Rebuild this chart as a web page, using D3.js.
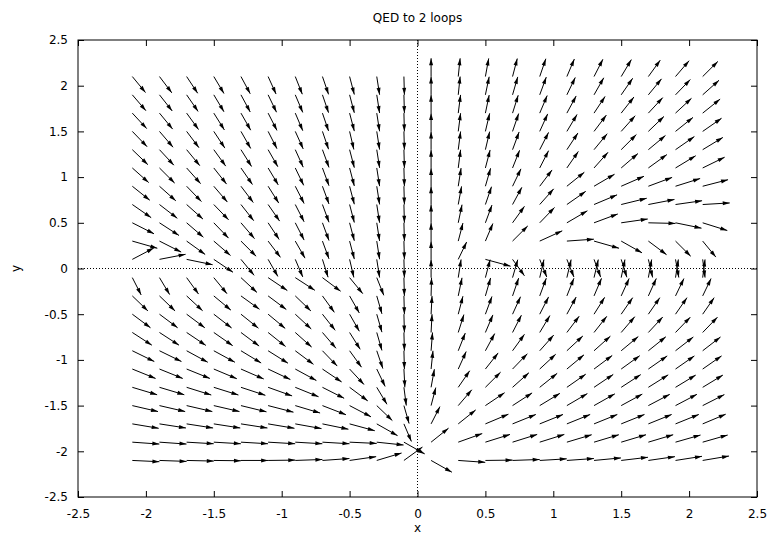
<!DOCTYPE html>
<html>
<head>
<meta charset="utf-8">
<script src="https://cdn.jsdelivr.net/npm/d3@7"></script>
<style>
  body { margin: 0; background: #fff; }
  text { font-family: "DejaVu Sans", sans-serif; font-size: 12px; fill: #000; }
</style>
</head>
<body>
<div id="chart"></div>
<script>
// grid of arrow tails
var xCols = [-2.1, -1.9, -1.7, -1.5, -1.3, -1.1, -0.9, -0.7, -0.5, -0.3, -0.1,
             0.1, 0.3, 0.5, 0.7, 0.9, 1.1, 1.3, 1.5, 1.7, 1.9, 2.1];
var yRows = [2.1, 1.9, 1.7, 1.5, 1.3, 1.1, 0.9, 0.7, 0.5, 0.3, 0.1,
             -0.1, -0.3, -0.5, -0.7, -0.9, -1.1, -1.3, -1.5, -1.7, -1.9, -2.1];

// arrow direction in degrees (data space), one row per yRows entry
var angles = [
  [-61, -63, -66, -68, -70, -73, -75, -77, -80, -84, -89,  90, 86, 83, 80, 77, 74, 71, 68, 64, 60, 56],
  [-60, -62, -65, -68, -70, -72, -74, -77, -80, -84, -89,  90, 86, 82, 79, 76, 72, 69, 65, 61, 57, 53],
  [-58, -61, -64, -67, -69, -71, -74, -77, -80, -84, -89,  90, 85, 82, 78, 74, 70, 66, 62, 58, 54, 50],
  [-57, -60, -63, -66, -69, -71, -73, -77, -81, -84, -89,  90, 85, 81, 77, 73, 68, 63, 59, 55, 50, 46],
  [-55, -58, -61, -64, -67, -69, -73, -76, -80, -84, -89,  90, 85, 81, 76, 71, 66, 61, 56, 51, 46, 42],
  [-53, -56, -59, -62, -65, -68, -72, -76, -80, -84, -89,  90, 85, 80, 75, 71, 65, 59, 52, 47, 42, 36],
  [-50, -53, -57, -60, -63, -67, -71, -76, -80, -84, -89,  90, 84, 79, 72, 63, 50, 41, 33, 29, 25, 21],
  [-46, -49, -53, -57, -62, -65, -71, -76, -80, -84, -89,  90, 83, 77, 70, 59, 46, 32, 20, 16, 12, 5],
  [-37, -44, -52, -57, -60, -66, -71, -76, -80, -84, -89,  90, 82, 76, 64, 57, 41, 29, 12, -2, -17, -25],
  [-23, -37, -47, -52, -56, -63, -69, -76, -80, -84, -89,  90, 80, 74, 56, 34, 6, -23, -40, -48, -56, -61],
  [38, 16, -17, -45, -61, -69, -74, -78, -81, -84, -89,  90, 72, -22, -64, -75, -75, -76, -78, -81, -83, -85],
  [-71, -68, -64, -61, -54, -45, -44, -48, -61, -75, -89,  90, 84, 80, 79, 81, 81, 81, 82, 83, 84, 85],
  [-55, -55, -54, -51, -47, -48, -55, -64, -69, -79, -89,  89, 82, 79, 77, 76, 75, 74, 73, 73, 72, 72],
  [-48, -48, -48, -49, -50, -51, -54, -62, -69, -79, -89,  88, 80, 76, 73, 71, 70, 67, 65, 65, 65, 65],
  [-44, -44, -45, -46, -48, -50, -53, -60, -67, -79, -89,  88, 78, 74, 71, 68, 63, 62, 60, 58, 57, 57],
  [-36, -36, -39, -39, -42, -43, -48, -57, -64, -77, -89,  87, 75, 70, 64, 59, 54, 53, 51, 50, 49, 49],
  [-31, -31, -31, -32, -33, -35, -39, -45, -58, -72, -88,  86, 73, 62, 57, 54, 51, 48, 47, 46, 46, 46],
  [-24, -24, -25, -25, -26, -28, -31, -37, -48, -68, -85,  83, 65, 56, 53, 50, 46, 45, 44, 43, 42, 42],
  [-19, -19, -19, -19, -20, -21, -24, -30, -38, -55, -79,  80, 60, 45, 44, 42, 41, 40, 39, 38, 38, 37],
  [-14, -13, -13, -13, -13, -14, -15, -17, -22, -40, -74,  71, 50, 32, 31, 31, 31, 31, 31, 31, 31, 32],
  [-6, -6, -5, -5, -5, -5, -5, -5, -4, -9, -40,  50, 28, 25, 25, 25, 24, 24, 24, 24, 23, 23],
  [-4, -3, -2, -1, 0, 1, 3, 6, 12, 24, 47,  -40, -6, 1, 3, 5, 6, 8, 10, 12, 13, 14]
];
var vecLength = 0.2;

var xTicks = [-2.5, -2, -1.5, -1, -0.5, 0, 0.5, 1, 1.5, 2, 2.5];
var yTicks = [-2.5, -2, -1.5, -1, -0.5, 0, 0.5, 1, 1.5, 2, 2.5];

var svgWidth = 774;
var svgHeight = 543;

var margin = {
  top: 40,
  right: 17,
  bottom: 46,
  left: 78
};

var width = svgWidth - margin.left - margin.right;
var height = svgHeight - margin.top - margin.bottom;

var svg = d3.select("#chart")
  .append("svg")
  .attr("width", svgWidth)
  .attr("height", svgHeight);

var chartGroup = svg.append("g")
  .attr("transform", `translate(${margin.left}, ${margin.top})`);

// scales
var xLinearScale = d3.scaleLinear()
  .domain([-2.5, 2.5])
  .range([0, width]);

var yLinearScale = d3.scaleLinear()
  .domain([-2.5, 2.5])
  .range([height, 0]);

var fmt = d => String(d);

// axes, ticks point inward and are mirrored on top / right
var bottomAxis = d3.axisBottom(xLinearScale).tickValues(xTicks).tickFormat(fmt)
  .tickSizeInner(-6).tickSizeOuter(0).tickPadding(12);
var topAxis = d3.axisTop(xLinearScale).tickValues(xTicks).tickFormat("")
  .tickSizeInner(-6).tickSizeOuter(0);
var leftAxis = d3.axisLeft(yLinearScale).tickValues(yTicks).tickFormat(fmt)
  .tickSizeInner(-6).tickSizeOuter(0).tickPadding(10);
var rightAxis = d3.axisRight(yLinearScale).tickValues(yTicks).tickFormat("")
  .tickSizeInner(-6).tickSizeOuter(0);

chartGroup.append("g")
  .attr("transform", `translate(0, ${height})`)
  .call(bottomAxis);
chartGroup.append("g").call(topAxis);
chartGroup.append("g").call(leftAxis);
chartGroup.append("g")
  .attr("transform", `translate(${width}, 0)`)
  .call(rightAxis);

chartGroup.selectAll(".domain").remove();
chartGroup.selectAll(".tick line").attr("stroke", "#000");
chartGroup.selectAll(".tick text")
  .style("font-family", "DejaVu Sans, sans-serif")
  .style("font-size", "12px");

// zero axes (dotted)
chartGroup.append("line")
  .attr("x1", xLinearScale(0)).attr("x2", xLinearScale(0))
  .attr("y1", 0).attr("y2", height)
  .attr("stroke", "#000").attr("stroke-dasharray", "1,2");
chartGroup.append("line")
  .attr("x1", 0).attr("x2", width)
  .attr("y1", yLinearScale(0)).attr("y2", yLinearScale(0))
  .attr("stroke", "#000").attr("stroke-dasharray", "1,2");

// frame
chartGroup.append("rect")
  .attr("x", 0).attr("y", 0)
  .attr("width", width).attr("height", height)
  .attr("fill", "none")
  .attr("stroke", "#000");

// build vectors
var vectors = [];
yRows.forEach(function(yv, i) {
  xCols.forEach(function(xv, j) {
    var a = angles[i][j] * Math.PI / 180;
    vectors.push({
      x0: xv, y0: yv,
      x1: xv + vecLength * Math.cos(a),
      y1: yv + vecLength * Math.sin(a)
    });
  });
});

var headLen = 7;
var headHalf = 2;

var vecGroup = chartGroup.append("g");

vecGroup.selectAll("line.vec")
  .data(vectors)
  .enter()
  .append("line")
  .attr("class", "vec")
  .attr("x1", d => xLinearScale(d.x0))
  .attr("y1", d => yLinearScale(d.y0))
  .attr("x2", d => xLinearScale(d.x1))
  .attr("y2", d => yLinearScale(d.y1))
  .attr("stroke", "#000")
  .attr("stroke-width", 1);

vecGroup.selectAll("path.head")
  .data(vectors)
  .enter()
  .append("path")
  .attr("class", "head")
  .attr("d", function(d) {
    var sx0 = xLinearScale(d.x0), sy0 = yLinearScale(d.y0);
    var sx1 = xLinearScale(d.x1), sy1 = yLinearScale(d.y1);
    var len = Math.hypot(sx1 - sx0, sy1 - sy0);
    var ux = (sx1 - sx0) / len, uy = (sy1 - sy0) / len;
    var bx = sx1 - headLen * ux, by = sy1 - headLen * uy;
    return "M" + sx1 + "," + sy1 +
      "L" + (bx - headHalf * uy) + "," + (by + headHalf * ux) +
      "L" + (bx + headHalf * uy) + "," + (by - headHalf * ux) + "Z";
  })
  .attr("fill", "#000");

// labels
svg.append("text")
  .attr("x", margin.left + width / 2)
  .attr("y", 22)
  .attr("text-anchor", "middle")
  .text("QED to 2 loops");

svg.append("text")
  .attr("x", margin.left + xLinearScale(0))
  .attr("y", 532)
  .attr("text-anchor", "middle")
  .text("x");

svg.append("text")
  .attr("transform", `translate(20, ${margin.top + yLinearScale(0)}) rotate(-90)`)
  .attr("text-anchor", "middle")
  .text("y");
</script>
</body>
</html>
